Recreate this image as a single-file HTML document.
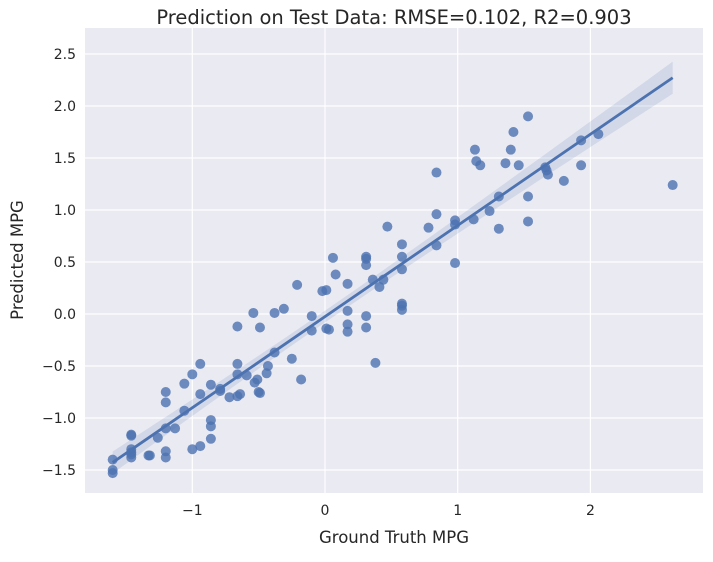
<!DOCTYPE html>
<html><head><meta charset="utf-8"><style>
body{margin:0;background:#fff;}
svg text{font-family:"DejaVu Sans","Liberation Sans",sans-serif;fill:#262626;}
</style></head><body>
<svg id="chart" width="713" height="557" xmlns="http://www.w3.org/2000/svg">
<rect x="0" y="0" width="713" height="557" fill="#fff"/>
<rect x="85" y="28" width="618" height="465" fill="#eaeaf2"/>
<g id="grid"></g>
<g id="band"></g>
<g id="pts"></g>
<g id="ticks"></g>
<text x="394" y="24" font-size="19.5" text-anchor="middle">Prediction on Test Data: RMSE=0.102, R2=0.903</text>
<text x="394" y="543" font-size="16.5" text-anchor="middle">Ground Truth MPG</text>
<text transform="translate(23,260) rotate(-90)" font-size="16.5" text-anchor="middle">Predicted MPG</text>
</svg>
<script>
const xVals=[-1.6,-1.6,-1.6,-1.46,-1.46,-1.46,-1.46,-1.46,-1.46,-1.33,-1.32,-1.26,-1.2,-1.2,-1.2,-1.2,-1.2,-1.13,-1.06,-1.06,-1.0,-1.0,-0.94,-0.94,-0.94,-0.86,-0.86,-0.86,-0.86,-0.79,-0.79,-0.72,-0.66,-0.66,-0.66,-0.66,-0.64,-0.59,-0.54,-0.53,-0.51,-0.50,-0.49,-0.49,-0.44,-0.43,-0.38,-0.38,-0.31,-0.25,-0.21,-0.18,-0.10,-0.10,-0.02,0.01,0.01,0.03,0.06,0.08,0.17,0.17,0.17,0.17,0.31,0.31,0.31,0.31,0.31,0.36,0.38,0.41,0.44,0.47,0.58,0.58,0.58,0.58,0.58,0.58,0.78,0.84,0.84,0.84,0.98,0.98,0.98,1.12,1.13,1.14,1.17,1.24,1.31,1.31,1.36,1.40,1.42,1.46,1.53,1.53,1.53,1.66,1.67,1.68,1.80,1.93,1.93,2.06,2.62];
const yVals=[-1.40,-1.50,-1.53,-1.16,-1.17,-1.30,-1.33,-1.38,-1.35,-1.36,-1.36,-1.19,-0.75,-0.85,-1.10,-1.32,-1.38,-1.10,-0.67,-0.93,-0.58,-1.30,-0.48,-0.77,-1.27,-0.68,-1.02,-1.08,-1.20,-0.72,-0.74,-0.80,-0.12,-0.48,-0.58,-0.79,-0.77,-0.59,0.01,-0.66,-0.63,-0.75,-0.76,-0.13,-0.57,-0.50,-0.37,0.01,0.05,-0.43,0.28,-0.63,-0.02,-0.16,0.22,-0.14,0.23,-0.15,0.54,0.38,0.29,0.03,-0.10,-0.17,0.55,0.53,0.47,-0.02,-0.13,0.33,-0.47,0.26,0.33,0.84,0.67,0.55,0.43,0.10,0.08,0.04,0.83,1.36,0.96,0.66,0.90,0.86,0.49,0.91,1.58,1.47,1.43,0.99,1.13,0.82,1.45,1.58,1.75,1.43,1.90,1.13,0.89,1.41,1.38,1.34,1.28,1.67,1.43,1.73,1.24];
const xTicks=[-1,0,1,2];
const xTickLabels=["\u22121","0","1","2"];
const yTicks=[-1.5,-1.0,-0.5,0.0,0.5,1.0,1.5,2.0,2.5];
const yTickLabels=["\u22121.5","\u22121.0","\u22120.5","0.0","0.5","1.0","1.5","2.0","2.5"];
const NS="http://www.w3.org/2000/svg";
const X=v=>325+v*132.7, Y=v=>314-v*104;
function mk(t,a,p){const e=document.createElementNS(NS,t);for(const k in a)e.setAttribute(k,a[k]);p.appendChild(e);return e;}
const grid=document.getElementById('grid'),ticks=document.getElementById('ticks');
xTicks.forEach((v,i)=>{
 const l=mk('line',{x1:X(v),x2:X(v),y1:28,y2:493,stroke:'#fff','stroke-width':1.2},grid);
 
 
 const t=mk('text',{x:X(v),y:515,'font-size':14,'text-anchor':'middle'},ticks);t.textContent=xTickLabels[i];
 
 
});
yTicks.forEach((v,i)=>{
 const l=mk('line',{x1:85,x2:703,y1:Y(v),y2:Y(v),stroke:'#fff','stroke-width':1.2},grid);
 
 
 const t=mk('text',{x:76,y:Y(v)+5,'font-size':14,'text-anchor':'end'},ticks);t.textContent=yTickLabels[i];
 
 
});
const n=xVals.length;let mx=0,my=0;for(let i=0;i<n;i++){mx+=xVals[i];my+=yVals[i];}mx/=n;my/=n;
let sxx=0,sxy=0;for(let i=0;i<n;i++){sxx+=(xVals[i]-mx)**2;sxy+=(xVals[i]-mx)*(yVals[i]-my);}
const b=sxy/sxx,a=my-b*mx;let sse=0;for(let i=0;i<n;i++)sse+=(yVals[i]-a-b*xVals[i])**2;
const s=Math.sqrt(sse/(n-2));
const xmin=Math.min(...xVals),xmax=Math.max(...xVals);
let up=[],lo=[];
for(let k=0;k<=50;k++){const xv=xmin+(xmax-xmin)*k/50;const se=1.98*s*Math.sqrt(1/n+(xv-mx)**2/sxx);const yv=a+b*xv;
 up.push(X(xv)+','+Y(yv+se));lo.unshift(X(xv)+','+Y(yv-se));}
const band=document.getElementById('band');
const bp=mk('polygon',{points:up.concat(lo).join(' '),fill:'#4c72b0','fill-opacity':0.15},band);


const pts=document.getElementById('pts');
for(let i=0;i<n;i++){const c=mk('circle',{cx:X(xVals[i]),cy:Y(yVals[i]),r:5,fill:'#4c72b0','fill-opacity':0.8},pts);
 
 }
const rl=mk('line',{x1:X(xmin),y1:Y(a+b*xmin),x2:X(xmax),y2:Y(a+b*xmax),stroke:'#4c72b0','stroke-width':2.8},band.parentNode);


</script>
</body></html>
